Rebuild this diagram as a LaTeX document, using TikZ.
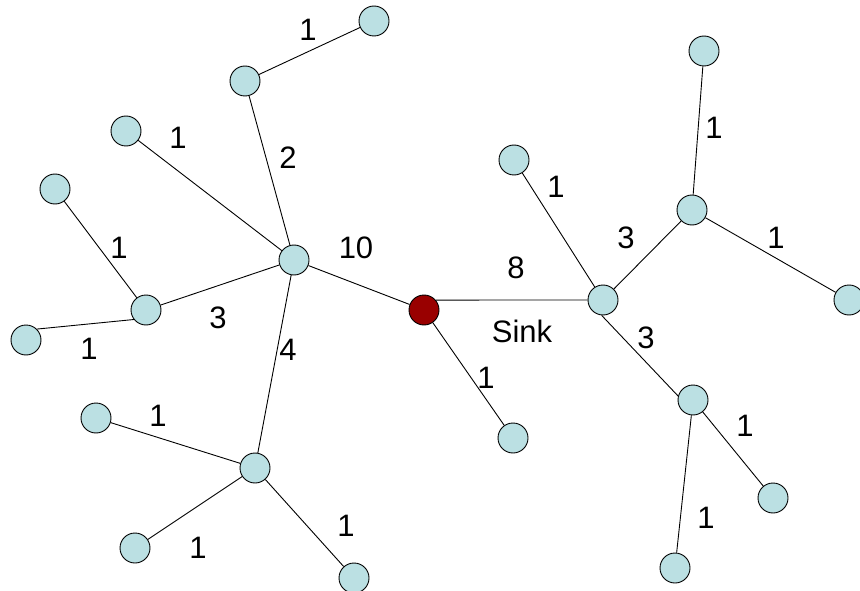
\documentclass[tikz,border=0pt]{standalone}
\usepackage{fontspec}
\setmainfont{Liberation Sans}
\definecolor{nodefill}{HTML}{BBE0E3}
\definecolor{sinkfill}{HTML}{990000}
\begin{document}
\begin{tikzpicture}[x=1pt,y=-1pt,
  sensor/.style={circle,draw=black,line width=0.9pt,fill=nodefill,minimum size=30pt,inner sep=0pt},
  sinknode/.style={sensor,fill=sinkfill},
  link/.style={draw=black,line width=0.9pt},
  wt/.style={font=\fontsize{31}{34}\selectfont,inner sep=0pt}]
\useasboundingbox (0,0) rectangle (860,591);
\clip (0,0) rectangle (860,591);
% sink and the tree around it
\node[sinknode] (sink) at (424,310) {};
\node[sensor] (a)   at (294,260) {};
\node[sensor] (a1)  at (245,81) {};
\node[sensor] (a1a) at (374,21) {};
\node[sensor] (a2)  at (126,131) {};
\node[sensor] (b)   at (146,310) {};
\node[sensor] (b1)  at (55,189) {};
\node[sensor] (b2)  at (26,340) {};
\node[sensor] (c)   at (255,468) {};
\node[sensor] (c1)  at (96,418) {};
\node[sensor] (c2)  at (135,548) {};
\node[sensor] (c3)  at (354,578) {};
\node[sensor] (s1)  at (513,438) {};
\node[sensor] (d)   at (603,300) {};
\node[sensor] (d1)  at (514,160) {};
\node[sensor] (e)   at (692,210) {};
\node[sensor] (e1)  at (704,51) {};
\node[sensor] (e2)  at (849,300) {};
\node[sensor] (f)   at (693,400) {};
\node[sensor] (f1)  at (773,498) {};
\node[sensor] (f2)  at (675,568) {};
% links
\path[link] (a) -- (sink);
\path[link] (a) -- (a1);
\path[link] (a1) -- (a1a);
\path[link] (a) -- (a2);
\path[link] (a) -- (b);
\path[link] (b) -- (b1);
\path[link] (b2.45) -- (b.218);
\path[link] (a) -- (c);
\path[link] (c) -- (c1);
\path[link] (c) -- (c2);
\path[link] (c) -- (c3);
\path[link] (sink) -- (s1);
\path[link] (sink.40) -- (d.180);
\path[link] (d) -- (d1);
\path[link] (d) -- (e);
\path[link] (e) -- (e1);
\path[link] (e) -- (e2);
\path[link] (d.-95) -- (f.165);
\path[link] (f) -- (f1);
\path[link] (f) -- (f2);
% weights
\node[wt] (w1)  at (308,30)  {1};
\node[wt] (w2)  at (288,158) {2};
\node[wt] (w3)  at (178,138) {1};
\node[wt] (w4)  at (356,248) {10};
\node[wt] (w5)  at (119,248) {1};
\node[wt] (w6)  at (218,318) {3};
\node[wt] (w7)  at (89,349)  {1};
\node[wt] (w8)  at (288,350) {4};
\node[wt] (w9)  at (158,416) {1};
\node[wt] (w10) at (198,548) {1};
\node[wt] (w11) at (346,526) {1};
\node[wt] (w12) at (516,268) {8};
\node[wt] (w13) at (486,378) {1};
\node[wt] (w14) at (556,187) {1};
\node[wt] (w15) at (626,238) {3};
\node[wt] (w16) at (714,128) {1};
\node[wt] (w17) at (776,238) {1};
\node[wt] (w18) at (646,338) {3};
\node[wt] (w19) at (745,426) {1};
\node[wt] (w20) at (706,518) {1};
\node[wt] (sinklabel) at (522,331) {Sink};
\end{tikzpicture}
\end{document}
